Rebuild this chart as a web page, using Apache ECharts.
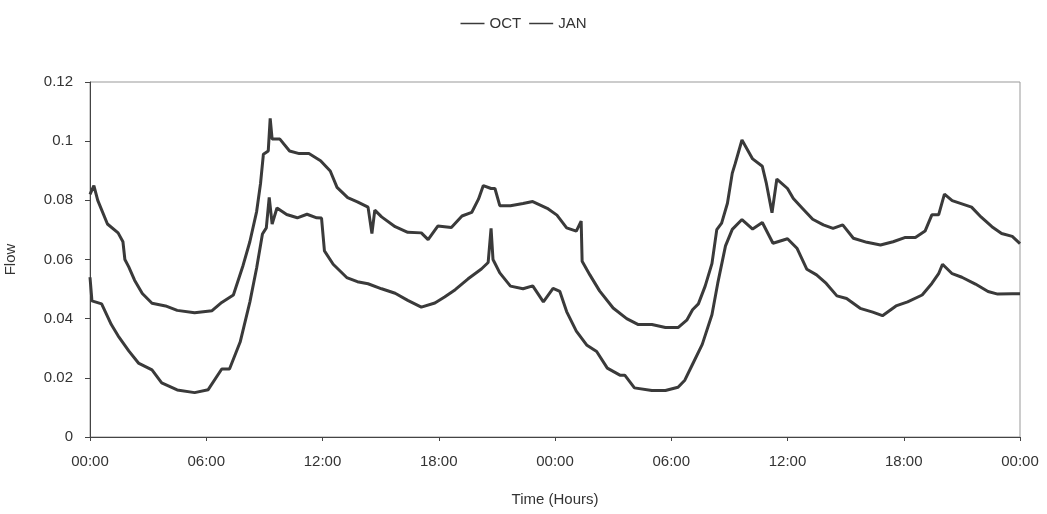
<!DOCTYPE html>
<html>
<head>
<meta charset="utf-8">
<script src="https://cdn.jsdelivr.net/npm/echarts@6/dist/echarts.min.js"></script>
<style>
  html, body { margin: 0; padding: 0; background: #fff; }
  #chart { width: 1047px; height: 514px; }
</style>
</head>
<body>
<div id="chart"></div>
<script>
// hours since start, flow values
const octHours = [0, 0.2, 0.4, 0.9, 1.45, 1.7, 1.8, 2.0, 2.3, 2.7, 3.2, 3.9, 4.5, 5.4, 6.3, 6.8, 7.4, 7.9, 8.25, 8.6, 8.8, 8.95, 9.2, 9.3, 9.4, 9.8, 10.3, 10.8, 11.3, 11.9, 12.4, 12.75, 13.3, 13.8, 14.35, 14.55, 14.7, 15.05, 15.75, 16.4, 17.1, 17.45, 17.95, 18.65, 19.2, 19.7, 20.05, 20.3, 20.7, 20.9, 21.15, 21.7, 22.35, 22.85, 23.6, 24.1, 24.6, 25.1, 25.35, 25.4, 25.8, 26.3, 27.0, 27.7, 28.3, 29.0, 29.7, 30.35, 30.8, 31.1, 31.4, 31.75, 32.1, 32.35, 32.6, 32.9, 33.15, 33.3, 33.65, 34.2, 34.7, 34.9, 35.2, 35.45, 36.0, 36.3, 36.8, 37.3, 37.85, 38.35, 38.85, 39.4, 40.1, 40.8, 41.45, 42.05, 42.6, 43.1, 43.45, 43.8, 44.1, 44.5, 45.0, 45.5, 46.0, 46.55, 47.05, 47.6, 48];
const octFlow = [0.082, 0.085, 0.080, 0.072, 0.069, 0.066, 0.060, 0.0575, 0.053, 0.0485, 0.0452, 0.0443, 0.0428, 0.042, 0.0427, 0.0455, 0.048, 0.058, 0.066, 0.0762, 0.0856, 0.0956, 0.0967, 0.1077, 0.1007, 0.1007, 0.0967, 0.0958, 0.0958, 0.0934, 0.0899, 0.0844, 0.0809, 0.0795, 0.0777, 0.0688, 0.0767, 0.0744, 0.0711, 0.0692, 0.069, 0.0667, 0.0713, 0.0708, 0.0747, 0.0759, 0.0804, 0.085, 0.084, 0.084, 0.0782, 0.0782, 0.0789, 0.0796, 0.0773, 0.075, 0.0707, 0.0696, 0.073, 0.0594, 0.0548, 0.0494, 0.0436, 0.040, 0.038, 0.038, 0.037, 0.037, 0.0395, 0.043, 0.045, 0.051, 0.0586, 0.0701, 0.0723, 0.079, 0.0892, 0.0924, 0.1004, 0.094, 0.0915, 0.086, 0.0758, 0.0872, 0.084, 0.0806, 0.0771, 0.0736, 0.0717, 0.0705, 0.0717, 0.0672, 0.0658, 0.0649, 0.066, 0.0674, 0.0674, 0.0696, 0.0751, 0.0751, 0.0821, 0.0799, 0.0788, 0.0777, 0.0743, 0.0711, 0.0688, 0.0678, 0.0654];

const janHours = [0, 0.1, 0.6, 1.1, 1.45, 2.0, 2.5, 3.2, 3.7, 4.5, 5.4, 6.1, 6.8, 7.2, 7.75, 8.25, 8.6, 8.9, 9.1, 9.25, 9.4, 9.65, 10.15, 10.7, 11.2, 11.7, 11.95, 12.1, 12.55, 13.25, 13.8, 14.35, 15.05, 15.75, 16.4, 17.1, 17.8, 18.3, 18.85, 19.5, 20.2, 20.55, 20.7, 20.8, 21.15, 21.7, 22.35, 22.85, 23.4, 23.9, 24.25, 24.6, 25.1, 25.65, 26.15, 26.7, 27.35, 27.6, 28.1, 29.0, 29.7, 30.35, 30.7, 31.1, 31.6, 32.1, 32.4, 32.8, 33.15, 33.65, 34.2, 34.7, 35.25, 36.0, 36.5, 37.0, 37.5, 38.0, 38.55, 39.05, 39.75, 40.4, 40.9, 41.6, 42.2, 42.95, 43.45, 43.8, 44.0, 44.5, 45.0, 45.7, 46.35, 46.85, 47.6, 48];
const janFlow = [0.054, 0.046, 0.045, 0.038, 0.0342, 0.0291, 0.025, 0.0227, 0.0183, 0.0159, 0.015, 0.016, 0.023, 0.023, 0.0321, 0.0456, 0.0571, 0.0686, 0.0707, 0.081, 0.072, 0.0774, 0.0752, 0.0741, 0.0753, 0.0741, 0.074, 0.0629, 0.0584, 0.0539, 0.0525, 0.0518, 0.0501, 0.0486, 0.0462, 0.0439, 0.0453, 0.0473, 0.0498, 0.0534, 0.0568, 0.059, 0.0705, 0.060, 0.0555, 0.051, 0.0501, 0.0511, 0.0457, 0.0502, 0.0492, 0.0424, 0.0358, 0.031, 0.0289, 0.0233, 0.0209, 0.0209, 0.0166, 0.0157, 0.0157, 0.0168, 0.0192, 0.0246, 0.0313, 0.0413, 0.052, 0.0646, 0.0702, 0.0735, 0.0703, 0.0725, 0.0655, 0.067, 0.0637, 0.0567, 0.0548, 0.0519, 0.0477, 0.0468, 0.0435, 0.0422, 0.041, 0.0443, 0.0457, 0.048, 0.0519, 0.0552, 0.0584, 0.0552, 0.054, 0.0517, 0.0492, 0.0483, 0.0484, 0.0484];

const timeLabels = ["00:00", "06:00", "12:00", "18:00", "00:00", "06:00", "12:00", "18:00", "00:00"];

const zip = (xs, ys) => xs.map((x, i) => [x, ys[i]]);

const textStyle = { fontFamily: "Liberation Sans", fontSize: 15, color: "#333" };
const lineColor = "#3a3a3a";

const myChart = echarts.init(document.getElementById("chart"));
myChart.setOption({
  animation: false,
  backgroundColor: "#fff",
  legend: {
    top: 11,
    left: "center",
    icon: "rect",
    itemWidth: 24,
    itemHeight: 1.5,
    itemGap: 8,
    textStyle: { fontFamily: "Liberation Sans", fontSize: 15, color: "#333" },
    data: ["OCT", "JAN"]
  },
  grid: {
    left: 90,
    right: 27,
    top: 82,
    bottom: 77,
    outerBoundsMode: "none",
    containLabel: false,
    show: true,
    borderColor: "#999",
    borderWidth: 1
  },
  xAxis: {
    type: "value",
    min: 0,
    max: 48,
    interval: 6,
    name: "Time (Hours)",
    nameLocation: "middle",
    nameGap: 55,
    nameTextStyle: textStyle,
    axisLine: { lineStyle: { color: "#444", width: 1 } },
    axisTick: { show: true, length: 4, lineStyle: { color: "#444" } },
    axisLabel: Object.assign({
      margin: 17,
      formatter: v => timeLabels[Math.round(v / 6)]
    }, textStyle),
    splitLine: { show: false }
  },
  yAxis: {
    type: "value",
    min: 0,
    max: 0.12,
    interval: 0.02,
    name: "Flow",
    nameLocation: "middle",
    nameGap: 72,
    nameTextStyle: textStyle,
    axisLine: { show: true, lineStyle: { color: "#444", width: 1 } },
    axisTick: { show: true, length: 5, lineStyle: { color: "#444" } },
    axisLabel: Object.assign({
      margin: 17,
      formatter: v => String(+v.toFixed(2))
    }, textStyle),
    splitLine: { show: false }
  },
  series: [
    {
      name: "OCT",
      type: "line",
      showSymbol: false,
      symbol: "none",
      color: lineColor,
      lineStyle: { color: lineColor, width: 3 },
      data: zip(octHours, octFlow)
    },
    {
      name: "JAN",
      type: "line",
      showSymbol: false,
      symbol: "none",
      color: lineColor,
      lineStyle: { color: lineColor, width: 3 },
      data: zip(janHours, janFlow)
    }
  ]
});
</script>
</body>
</html>
